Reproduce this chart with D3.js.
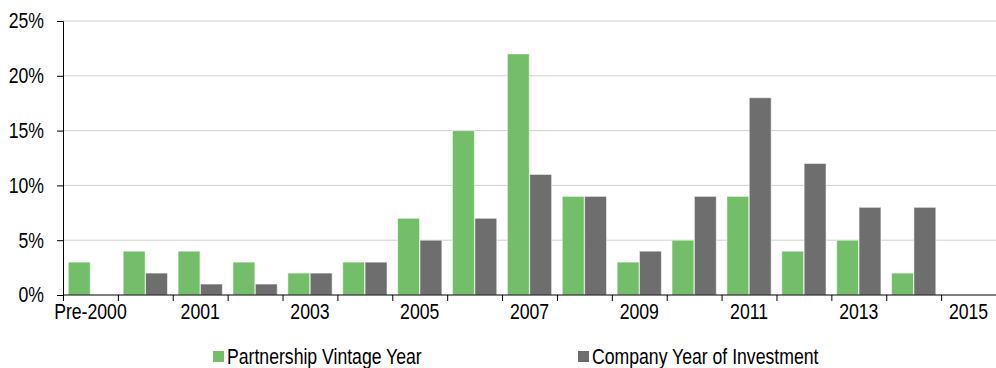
<!DOCTYPE html>
<html>
<head>
<meta charset="utf-8">
<script src="https://cdn.jsdelivr.net/npm/d3@7"></script>
<style>
  body { margin: 0; background: #fff; }
  svg { display: block; font-family: "Liberation Sans", Arial, sans-serif; }
  .axis path, .axis line { stroke: #000; }
  .grid line { stroke: #d0d0d0; }
</style>
</head>
<body>
<div id="chart"></div>
<script>
// categories and values (percent)
const categories = ["Pre-2000", "2000", "2001", "2002", "2003", "2004", "2005", "2006",
  "2007", "2008", "2009", "2010", "2011", "2012", "2013", "2014", "2015"];
const partnershipVintage = [3, 4, 4, 3, 2, 3, 7, 15, 22, 9, 3, 5, 9, 4, 5, 2, 0];
const companyInvestment = [0, 2, 1, 1, 2, 3, 5, 7, 11, 9, 4, 9, 18, 12, 8, 8, 0];
const seriesNames = ["Partnership Vintage Year", "Company Year of Investment"];
const seriesColors = ["#73bf69", "#6e6e6e"];
const yTicks = [0, 5, 10, 15, 20, 25];

const width = 996, height = 368;
const margin = { top: 21, right: 0, bottom: 73, left: 63 };
const fontSize = 21.5;
const narrow = 0.82; // the original uses a narrow face, squeeze Liberation Sans to match

const svg = d3.select("#chart").append("svg")
  .attr("width", width)
  .attr("height", height);

const x = d3.scaleBand()
  .domain(categories)
  .range([margin.left, width - margin.right])
  .padding(0);

const xInner = d3.scaleBand()
  .domain([0, 1])
  .range([5.3, x.bandwidth() - 5.3])
  .paddingInner(0.02);

const y = d3.scaleLinear()
  .domain([0, 25])
  .range([height - margin.bottom, margin.top]);

// gridlines
svg.append("g")
  .attr("class", "grid")
  .selectAll("line")
  .data(yTicks.filter(d => d > 0))
  .enter().append("line")
  .attr("x1", margin.left)
  .attr("x2", width)
  .attr("y1", d => y(d))
  .attr("y2", d => y(d));

// bars
const rows = categories.map((c, i) => ({ cat: c, values: [partnershipVintage[i], companyInvestment[i]] }));

const groups = svg.append("g")
  .selectAll("g")
  .data(rows)
  .enter().append("g")
  .attr("transform", d => "translate(" + x(d.cat) + ",0)");

groups.selectAll("rect")
  .data(d => d.values.map((v, k) => ({ k: k, v: v })).filter(e => e.v > 0))
  .enter().append("rect")
  .attr("x", d => xInner(d.k))
  .attr("width", xInner.bandwidth())
  .attr("y", d => y(d.v))
  .attr("height", d => y(0) - y(d.v))
  .attr("fill", d => seriesColors[d.k])
  .attr("stroke", "#ffffff")
  .attr("stroke-opacity", 0.55)
  .attr("stroke-width", 1);

// y axis
const yAxis = d3.axisLeft(y)
  .tickValues(yTicks)
  .tickSize(6)
  .tickPadding(13)
  .tickFormat(d => d + "%");

svg.append("g")
  .attr("class", "axis")
  .attr("transform", "translate(" + margin.left + ",0)")
  .call(yAxis)
  .call(g => g.selectAll("text").attr("font-size", fontSize).attr("fill", "#000").attr("font-family", null));

// x axis: labels at every other category, ticks at band boundaries
const xAxis = d3.axisBottom(x)
  .tickSize(0)
  .tickPadding(9)
  .tickFormat((d, i) => i % 2 === 0 ? d : "");

const xg = svg.append("g")
  .attr("class", "axis")
  .attr("transform", "translate(0," + y(0) + ")")
  .call(xAxis);

xg.select(".domain").attr("d", "M" + margin.left + ",0H" + width);
xg.selectAll("text").attr("font-size", fontSize).attr("fill", "#000").attr("font-family", null);

xg.selectAll(".boundary")
  .data(categories)
  .enter().append("line")
  .attr("class", "boundary")
  .attr("x1", d => x(d) + 0.5)
  .attr("x2", d => x(d) + 0.5)
  .attr("y1", 0)
  .attr("y2", 6);

// legend
const legend = svg.append("g")
  .selectAll("g")
  .data(seriesNames)
  .enter().append("g")
  .attr("transform", (d, i) => "translate(" + [213, 578][i] + ",351)");

legend.append("rect")
  .attr("width", 11)
  .attr("height", 11)
  .attr("fill", (d, i) => seriesColors[i]);

legend.append("text")
  .attr("x", 14)
  .attr("y", 12.5)
  .attr("font-size", fontSize)
  .attr("fill", "#000")
  .text(d => d);

// squeeze every label horizontally
svg.selectAll("text").each(function () {
  const len = this.getComputedTextLength();
  if (len > 0) {
    d3.select(this)
      .attr("textLength", len * narrow)
      .attr("lengthAdjust", "spacingAndGlyphs");
  }
});
</script>
</body>
</html>
